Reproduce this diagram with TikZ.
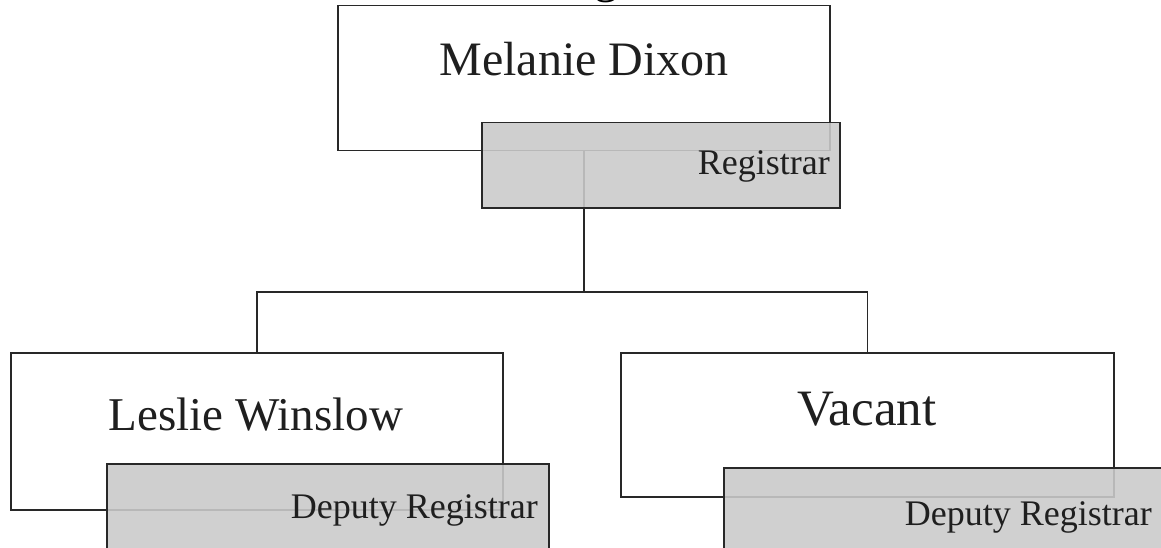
\documentclass[tikz,border=0pt]{standalone}
\usepackage{fontspec}
\setmainfont{Liberation Serif}
\definecolor{linec}{RGB}{40,40,40}
\definecolor{graybox}{RGB}{202,202,202}
\begin{document}
\begin{tikzpicture}[x=1pt,y=-1pt,
  whitebox/.style={draw=linec, line width=1.5pt, fill=white, inner sep=0pt, anchor=north west},
  graybx/.style={draw=linec, line width=1.5pt, fill=graybox, fill opacity=0.89, draw opacity=1, inner sep=0pt, anchor=north west},
  conn/.style={draw=linec, line width=1.5pt},
  bigtxt/.style={inner sep=0pt, anchor=base, text=black!88},
  smalltxt/.style={inner sep=0pt, anchor=base east, text=black!88, font=\fontsize{36}{40}\selectfont}]
\useasboundingbox (0,0) rectangle (1161,548);
% partially visible title
\node[inner sep=0pt, anchor=base west, font=\fontsize{48}{52}\selectfont] (ttl) at (594,-7.5) {g};
% white boxes
\node[whitebox, minimum width=492pt, minimum height=145pt] (md) at (337,5) {};
\node[whitebox, minimum width=492pt, minimum height=157pt] (lw) at (10,352) {};
\node[whitebox, minimum width=493pt, minimum height=144pt] (va) at (620,352) {};
% connectors
\coordinate (j) at (md.south |- 0,292);
\draw[conn] (md.south) -- (j);
\draw[conn] (lw.north) |- (j) -| (va.north);
% gray title boxes
\node[graybx, minimum width=358pt, minimum height=85pt] (rg) at (481,122) {};
\node[graybx, minimum width=442pt, minimum height=100pt] (dl) at (106,463) {};
\node[graybx, minimum width=450pt, minimum height=100pt] (dv) at (723,467) {};
% texts
\node[bigtxt, font=\fontsize{48}{52}\selectfont] (tmd) at (584,76) {Melanie Dixon};
\node[bigtxt, font=\fontsize{47}{52}\selectfont] (tlw) at (256,430) {Leslie Winslow};
\node[bigtxt, font=\fontsize{51}{56}\selectfont] (tva) at (867,425) {Vacant};
\node[smalltxt] (trg) at (830,175) {Registrar};
\node[smalltxt] (tdl) at (538,518) {Deputy Registrar};
\node[smalltxt] (tdv) at (1152,525) {Deputy Registrar};
\end{tikzpicture}
\end{document}
